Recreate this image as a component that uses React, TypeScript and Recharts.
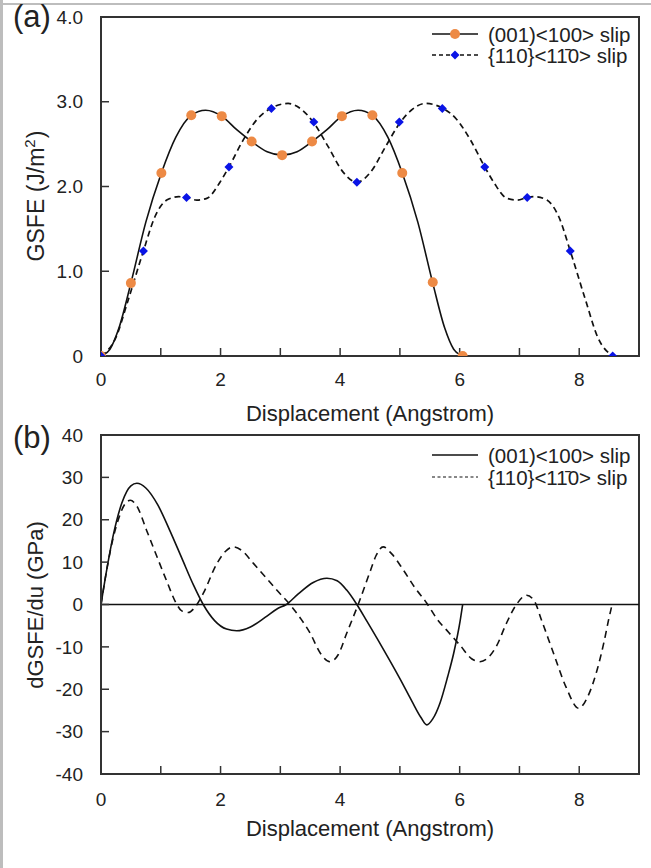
import React from 'react';
import { LineChart, Line, XAxis, YAxis, ReferenceLine, ReferenceArea, Legend } from 'recharts';

const FONT = '"Liberation Sans", Arial, Helvetica, sans-serif';
const INK = '#222222';
const AXIS = '#333333';
const ORANGE = '#ED8A45';
const BLUE = '#0A14E6';

// ---------- shared ----------
const displacementTicks = [0, 1, 2, 3, 4, 5, 6, 7, 8, 9];
const displacementLabels = ['0', '', '2', '', '4', '', '6', '', '8', ''];
const seriesNames = ['(001)<100> slip', '{110}<11\u03040> slip'];

// ---------- panel (a): GSFE ----------
const gsfeTicks = [0, 1, 2, 3, 4];
const gsfeTickLabels = ['0', '1.0', '2.0', '3.0', '4.0'];
// computed points (markers)
const slip001X = [0, 0.5, 1.01, 1.51, 2.02, 2.52, 3.03, 3.53, 4.03, 4.54, 5.04, 5.55, 6.05];
const slip001Gsfe = [0, 0.86, 2.16, 2.84, 2.83, 2.53, 2.37, 2.53, 2.83, 2.84, 2.16, 0.87, 0];
const slip110X = [0, 0.71, 1.43, 2.14, 2.85, 3.56, 4.28, 4.99, 5.71, 6.42, 7.13, 7.85, 8.56];
const slip110Gsfe = [0, 1.24, 1.87, 2.23, 2.92, 2.76, 2.05, 2.76, 2.92, 2.23, 1.87, 1.24, 0];
// fitted curves
const fit001X = [0, 0.15, 0.3, 0.5, 0.75, 1.01, 1.25, 1.51, 1.75, 2.02, 2.27, 2.52, 2.78, 3.03, 3.28, 3.53, 3.78, 4.03, 4.3, 4.54, 4.8, 5.04, 5.3, 5.55, 5.75, 5.9, 6.05];
const fit001Gsfe = [0, 0.08, 0.33, 0.86, 1.58, 2.16, 2.58, 2.84, 2.9, 2.83, 2.67, 2.53, 2.41, 2.37, 2.41, 2.53, 2.67, 2.83, 2.9, 2.84, 2.58, 2.16, 1.58, 0.86, 0.33, 0.08, 0];
const fit110X = [0, 0.25, 0.45, 0.71, 0.9, 1.1, 1.3, 1.43, 1.6, 1.77, 1.99, 2.14, 2.38, 2.62, 2.86, 3.13, 3.37, 3.55, 3.8, 4.05, 4.28, 4.51, 4.76, 5.01, 5.19, 5.43, 5.7, 5.94, 6.18, 6.42, 6.57, 6.79, 6.96, 7.13, 7.26, 7.46, 7.66, 7.85, 8.11, 8.31, 8.56];
const fit110Gsfe = [0, 0.22, 0.65, 1.24, 1.64, 1.84, 1.88, 1.87, 1.84, 1.86, 2.05, 2.23, 2.55, 2.8, 2.93, 2.98, 2.9, 2.76, 2.47, 2.17, 2.05, 2.17, 2.47, 2.76, 2.9, 2.98, 2.93, 2.8, 2.55, 2.23, 2.05, 1.86, 1.84, 1.87, 1.88, 1.84, 1.64, 1.24, 0.65, 0.22, 0];

// ---------- panel (b): dGSFE/du ----------
const slopeTicks = [-40, -30, -20, -10, 0, 10, 20, 30, 40];
const d001X = [0, 0.1, 0.2, 0.35, 0.5, 0.6, 0.75, 0.95, 1.15, 1.35, 1.55, 1.71, 1.9, 2.1, 2.27, 2.5, 2.75, 2.95, 3.1, 3.3, 3.55, 3.78, 3.95, 4.11, 4.28, 4.45, 4.7, 5.0, 5.2, 5.35, 5.45, 5.55, 5.67, 5.8, 5.9, 6.01, 6.05];
const d001Y = [0, 8.5, 16, 24, 28, 28.6, 27.5, 23.5, 17.5, 11, 4.5, 0, -3.8, -5.8, -6.2, -5.3, -3, -1, 0, 2.5, 5.2, 6.2, 5.6, 3.4, 0, -4, -10, -17.5, -22.8, -26.6, -28.4, -27, -23.3, -17, -11.5, -3.7, 0];
const d110X = [0, 0.1, 0.2, 0.3, 0.4, 0.49, 0.6, 0.76, 0.93, 1.1, 1.25, 1.35, 1.46, 1.58, 1.71, 1.94, 2.08, 2.21, 2.35, 2.55, 2.75, 2.94, 3.16, 3.35, 3.5, 3.67, 3.83, 3.97, 4.11, 4.31, 4.51, 4.6, 4.72, 4.86, 5.06, 5.25, 5.45, 5.62, 5.81, 6.01, 6.2, 6.34, 6.48, 6.62, 6.78, 6.95, 7.12, 7.25, 7.37, 7.57, 7.78, 7.99, 8.15, 8.3, 8.42, 8.49, 8.55];
const d110Y = [0, 8.5, 15.5, 20.5, 23.7, 24.6, 23.2, 17.6, 11.5, 5.5, 0.5, -1.5, -1.9, -0.5, 2.6, 9.7, 12.5, 13.6, 12.8, 9.7, 6.5, 3.4, 0, -3.5, -6.8, -11.5, -13.5, -11.8, -6.8, 0.3, 8.1, 11.5, 13.6, 12, 8.1, 4, 0.3, -3.4, -6.5, -9.7, -12.8, -13.5, -12.5, -9.7, -4.5, 0, 2.2, 0.8, -3.7, -11.5, -19.5, -24.5, -21.5, -15.4, -8.5, -3.7, 0];

const zip = (xs: number[], ys: number[]) => xs.map((x, i) => ({ x, y: ys[i] }));
const pts001 = zip(slip001X, slip001Gsfe);
const pts110 = zip(slip110X, slip110Gsfe);
const curve001 = zip(fit001X, fit001Gsfe);
const curve110 = zip(fit110X, fit110Gsfe);
const slope001 = zip(d001X, d001Y);
const slope110 = zip(d110X, d110Y);

const fmtX = (v: number) => displacementLabels[displacementTicks.indexOf(v)] ?? '';
const fmtGsfe = (v: number) => gsfeTickLabels[gsfeTicks.indexOf(v)] ?? String(v);

const tickStyle = { fill: INK, fontSize: 19, fontFamily: FONT };

const OrangeDot = (p: any) => (
  <circle key={'o' + p.index} cx={p.cx} cy={p.cy} r={5} fill={ORANGE} stroke="none" />
);
const BlueDiamond = (p: any) => (
  <polygon
    key={'b' + p.index}
    points={`${p.cx},${p.cy - 4.5} ${p.cx + 4.5},${p.cy} ${p.cx},${p.cy + 4.5} ${p.cx - 4.5},${p.cy}`}
    fill={BLUE}
    stroke="none"
  />
);

const legendText = { fill: INK, fontSize: 20.5, fontFamily: FONT };

const LegendA = () => (
  <svg width={220} height={50} style={{ display: 'block', overflow: 'visible' }}>
    <line x1={7} y1={14} x2={53} y2={14} stroke="#111" strokeWidth={1.5} />
    <circle cx={30} cy={14} r={5} fill={ORANGE} />
    <text x={63} y={14} dominantBaseline="central" {...legendText}>{seriesNames[0]}</text>
    <line x1={7} y1={35} x2={53} y2={35} stroke="#111" strokeWidth={1.5} strokeDasharray="4 3" />
    <polygon points="30,30.5 34.5,35 30,39.5 25.5,35" fill={BLUE} />
    <text x={63} y={35} dominantBaseline="central" {...legendText}>{seriesNames[1]}</text>
  </svg>
);

const LegendB = () => (
  <svg width={220} height={50} style={{ display: 'block', overflow: 'visible' }}>
    <line x1={7} y1={15} x2={53} y2={15} stroke="#111" strokeWidth={1.5} />
    <text x={63} y={15} dominantBaseline="central" {...legendText}>{seriesNames[0]}</text>
    <line x1={7} y1={37} x2={53} y2={37} stroke="#111" strokeWidth={1.2} strokeDasharray="3 2.5" />
    <text x={63} y={37} dominantBaseline="central" {...legendText}>{seriesNames[1]}</text>
  </svg>
);

const GsfeLabel = () => (
  <text x={44} y={196} transform="rotate(-90 44 196)" textAnchor="middle" fill={INK} fontSize={23} fontFamily={FONT}>
    GSFE (J/m<tspan dy={-9} fontSize={15}>2</tspan>
    <tspan dy={9} dx={1}>)</tspan>
  </text>
);

const SlopeLabel = () => (
  <text x={43} y={185} transform="rotate(-90 43 185)" textAnchor="middle" fill={INK} fontSize={22} fontFamily={FONT}>
    dGSFE/du (GPa)
  </text>
);

const xLabel = (offset: number) => ({
  value: 'Displacement (Angstrom)',
  position: 'insideBottom' as const,
  offset,
  fill: INK,
  fontSize: 22,
  fontFamily: FONT,
});

export default function App() {
  return (
    <div style={{ position: 'absolute', left: 0, top: 0, width: 651, height: 868, background: '#fff', overflow: 'hidden' }}>
      <div style={{ position: 'absolute', left: 0, top: 3, width: 651, height: 2, background: '#bdbdbd' }} />
      <div style={{ position: 'absolute', left: 0, top: 0, width: 3, height: 868, background: '#bdbdbd' }} />

      <div style={{ position: 'absolute', left: 0, top: 0 }}>
        <LineChart width={651} height={430} margin={{ top: 17, right: 12, bottom: 0, left: 0 }}>
          <XAxis
            type="number"
            dataKey="x"
            domain={[0, 9]}
            ticks={displacementTicks}
            interval={0}
            tickFormatter={fmtX}
            height={74}
            axisLine={{ stroke: AXIS, strokeWidth: 2 }}
            tickLine={{ stroke: AXIS, strokeWidth: 1.5 }}
            tickSize={-8}
            tickMargin={25}
            tick={tickStyle}
            label={xLabel(9)}
            allowDataOverflow
          />
          <YAxis
            type="number"
            domain={[0, 4]}
            ticks={gsfeTicks}
            interval={0}
            tickFormatter={fmtGsfe}
            width={101}
            axisLine={{ stroke: AXIS, strokeWidth: 2 }}
            tickLine={{ stroke: AXIS, strokeWidth: 1.5 }}
            tickSize={-8}
            tickMargin={26}
            tick={tickStyle}
            label={{ content: GsfeLabel }}
            allowDataOverflow
          />
          <ReferenceArea x1={0} x2={9} y1={0} y2={4} fill="none" stroke={AXIS} strokeWidth={2} fillOpacity={0} />
          <Line data={curve001} dataKey="y" type="monotone" stroke="#111" strokeWidth={1.6} dot={false} activeDot={false} isAnimationActive={false} />
          <Line data={curve110} dataKey="y" type="monotone" stroke="#111" strokeWidth={1.7} strokeDasharray="6 4" dot={false} activeDot={false} isAnimationActive={false} />
          <Line data={pts001} dataKey="y" stroke="none" dot={OrangeDot} activeDot={false} isAnimationActive={false} />
          <Line data={pts110} dataKey="y" stroke="none" dot={BlueDiamond} activeDot={false} isAnimationActive={false} />
          <Legend content={LegendA} layout="vertical" align="center" verticalAlign="middle" wrapperStyle={{ top: 20, left: 425, width: 220, height: 50 }} />
        </LineChart>
      </div>

      <div style={{ position: 'absolute', left: 0, top: 420 }}>
        <LineChart width={651} height={448} margin={{ top: 15, right: 12, bottom: 0, left: 0 }}>
          <XAxis
            type="number"
            dataKey="x"
            domain={[0, 9]}
            ticks={displacementTicks}
            interval={0}
            tickFormatter={fmtX}
            height={94}
            axisLine={{ stroke: AXIS, strokeWidth: 2 }}
            tickLine={{ stroke: AXIS, strokeWidth: 1.5 }}
            tickSize={-8}
            tickMargin={27}
            tick={tickStyle}
            label={xLabel(32)}
            allowDataOverflow
          />
          <YAxis
            type="number"
            domain={[-40, 40]}
            ticks={slopeTicks}
            interval={0}
            width={101}
            axisLine={{ stroke: AXIS, strokeWidth: 2 }}
            tickLine={{ stroke: AXIS, strokeWidth: 1.5 }}
            tickSize={-8}
            tickMargin={26}
            tick={tickStyle}
            label={{ content: SlopeLabel }}
            allowDataOverflow
          />
          <ReferenceArea x1={0} x2={9} y1={-40} y2={40} fill="none" stroke={AXIS} strokeWidth={2} fillOpacity={0} />
          <ReferenceLine y={0} stroke="#111" strokeWidth={1.5} />
          <Line data={slope001} dataKey="y" type="monotone" stroke="#111" strokeWidth={1.6} dot={false} activeDot={false} isAnimationActive={false} />
          <Line data={slope110} dataKey="y" type="monotone" stroke="#111" strokeWidth={1.6} strokeDasharray="7 5" dot={false} activeDot={false} isAnimationActive={false} />
          <Legend content={LegendB} layout="vertical" align="center" verticalAlign="middle" wrapperStyle={{ top: 20, left: 425, width: 220, height: 50 }} />
        </LineChart>
      </div>

      <svg width={651} height={868} style={{ position: 'absolute', left: 0, top: 0, pointerEvents: 'none' }}>
        <text x={13} y={27} fill={INK} fontSize={31} fontFamily={FONT}>(a)</text>
        <text x={13} y={448} fill={INK} fontSize={31} fontFamily={FONT}>(b)</text>
      </svg>
    </div>
  );
}
